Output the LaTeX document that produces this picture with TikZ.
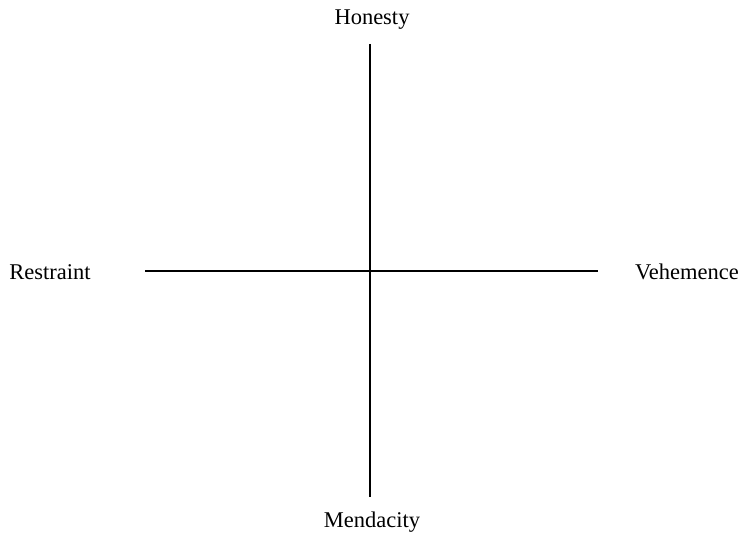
\documentclass[tikz,border=0pt]{standalone}
\usepackage{fontspec}
\setmainfont{Liberation Serif}
\usepackage{tikz}

\begin{document}
\begin{tikzpicture}[x=1pt,y=1pt]
  \tikzset{axislabel/.style={font=\fontsize{22.5}{26}\selectfont,inner sep=0pt,text=black}}
  \tikzset{axisline/.style={draw=black,line width=1.5pt}}
  \useasboundingbox (0,0) rectangle (744,536);
  \coordinate (top) at (370,492);
  \coordinate (bot) at (370,39);
  \coordinate (lft) at (145,265);
  \coordinate (rgt) at (598,265);
  \node[axislabel] (honesty) at (372,516) {Honesty};
  \node[axislabel] (mendacity) at (372,14) {Mendacity};
  \node[axislabel] (restraint) at (50,264) {Restraint};
  \node[axislabel] (vehemence) at (687,264) {Vehemence};
  \draw[axisline] (top) -- (bot);
  \draw[axisline] (lft) -- (rgt);
\end{tikzpicture}
\end{document}
